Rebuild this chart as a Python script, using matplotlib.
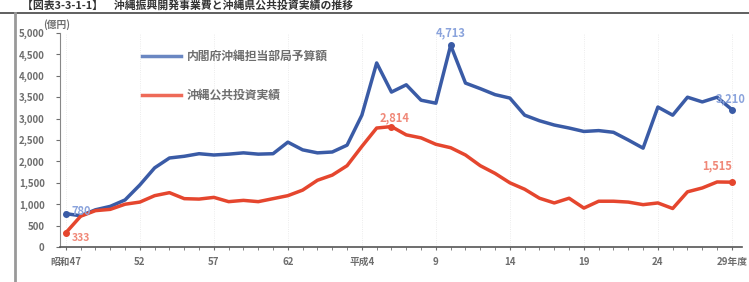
import numpy as np
import matplotlib.pyplot as plt

plt.rcParams['font.family'] = ['Noto Sans CJK JP', 'DejaVu Sans']

# 年度 (西暦)
years = list(range(1972, 2018))

# 内閣府沖縄担当部局予算額 (億円)
budget = [780, 730, 870, 950, 1100, 1450, 1850, 2080, 2120, 2180,
          2150, 2170, 2200, 2170, 2180, 2450, 2270, 2200, 2220, 2380,
          3080, 4300, 3620, 3790, 3430, 3360, 4713, 3830, 3700, 3560,
          3480, 3080, 2950, 2850, 2780, 2700, 2720, 2680, 2500, 2310,
          3270, 3080, 3500, 3390, 3500, 3210]

# 沖縄公共投資実績 (億円)
invest = [333, 720, 850, 880, 1000, 1050, 1200, 1270, 1130, 1120,
          1160, 1060, 1090, 1060, 1130, 1200, 1330, 1560, 1680, 1900,
          2350, 2780, 2814, 2620, 2550, 2400, 2320, 2150, 1900, 1720,
          1500, 1350, 1140, 1030, 1140, 910, 1070, 1070, 1050, 990,
          1030, 900, 1290, 1380, 1520, 1515]

tick_years = [1972, 1977, 1982, 1987, 1992, 1997, 2002, 2007, 2012, 2017]
tick_labels = ['昭和47', '52', '57', '62', '平成4', '9', '14', '19', '24', '29年度']

blue = '#3a5ba6'
red = '#e5462e'
gray = '#6e6e6e'

fig = plt.figure(figsize=(7.49, 2.82), dpi=100)
ax = fig.add_axes([0.080, 0.124, 0.911, 0.759])

ax.plot(years, budget, color=blue, lw=2.5, label='内閣府沖縄担当部局予算額', zorder=3)
ax.plot(years, invest, color=red, lw=2.5, label='沖縄公共投資実績', zorder=3)

# marked points
for i in [0, years.index(1998), len(years) - 1]:
    ax.plot(years[i], budget[i], 'o', color=blue, ms=4, zorder=4)
for i in [0, years.index(1994), len(years) - 1]:
    ax.plot(years[i], invest[i], 'o', color=red, ms=4, zorder=4)

lab_b = '#8aa3dc'
lab_r = '#f08878'
ax.text(1972.4, budget[0] + 40, f'{budget[0]:,}', color=lab_b, fontsize=8,
        fontweight='bold', ha='left', va='center')
ax.text(1998, 4713 + 140, '4,713', color=lab_b, fontsize=8, fontweight='bold',
        ha='center', va='bottom')
ax.text(2016.9, budget[-1] + 250, f'{budget[-1]:,}', color=lab_b, fontsize=8,
        fontweight='bold', ha='center', va='center')
ax.text(1972.4, invest[0] - 120, f'{invest[0]:,}', color=lab_r, fontsize=7.5,
        fontweight='bold', ha='left', va='center')
ax.text(1994.2, 2814 + 200, '2,814', color=lab_r, fontsize=8, fontweight='bold',
        ha='center', va='center')
ax.text(2016.0, invest[-1] + 380, f'{invest[-1]:,}', color=lab_r, fontsize=8,
        fontweight='bold', ha='center', va='center')

ax.set_xlim(1971.6, 2017.7)
ax.set_ylim(0, 5000)
ax.set_yticks(np.arange(0, 5001, 500))
ax.set_yticklabels([f'{v:,}' for v in range(0, 5001, 500)])
ax.set_xticks(tick_years)
ax.set_xticklabels(tick_labels)
ax.set_xticks(years, minor=True)

for lab in ax.get_yticklabels() + ax.get_xticklabels():
    lab.set_fontsize(7)
    lab.set_fontweight('bold')
    lab.set_color(gray)
ax.tick_params(axis='y', length=3, color=gray, pad=8)
ax.tick_params(axis='x', which='both', length=2, color=gray, pad=5)

for s in ['top', 'right']:
    ax.spines[s].set_visible(False)
ax.spines['left'].set_color('#888888')
ax.spines['bottom'].set_color('#555555')
ax.spines['bottom'].set_linewidth(1.2)
ax.grid(axis='x', color='#e6e6e6', lw=0.6, ls=':')

leg = ax.legend(loc='upper left', bbox_to_anchor=(0.105, 0.97), frameon=False,
                handlelength=3.3, handletextpad=0.5, labelspacing=2.2, fontsize=8.5)
leg.get_lines()[0].set_color('#6a87c2')
leg.get_lines()[1].set_color('#ee6a58')
for t in leg.get_texts():
    t.set_color(gray)
    t.set_fontweight('bold')

fig.text(0.058, 0.912, '(億円)', fontsize=7, fontweight='bold', color=gray,
         ha='left', va='center')

# page frame and title
fig.add_artist(plt.Line2D([0, 1], [0.955, 0.955], color='#444444', lw=1.2))
fig.add_artist(plt.Line2D([0.02, 0.02], [0.0, 0.955], color='#999999', lw=2))
fig.text(0.03, 0.96, '【図表3-3-1-1】　沖縄振興開発事業費と沖縄県公共投資実績の推移',
         fontsize=7.8, fontweight='bold', color='#333333', ha='left', va='bottom')

fig.savefig('out.png', dpi=100)
